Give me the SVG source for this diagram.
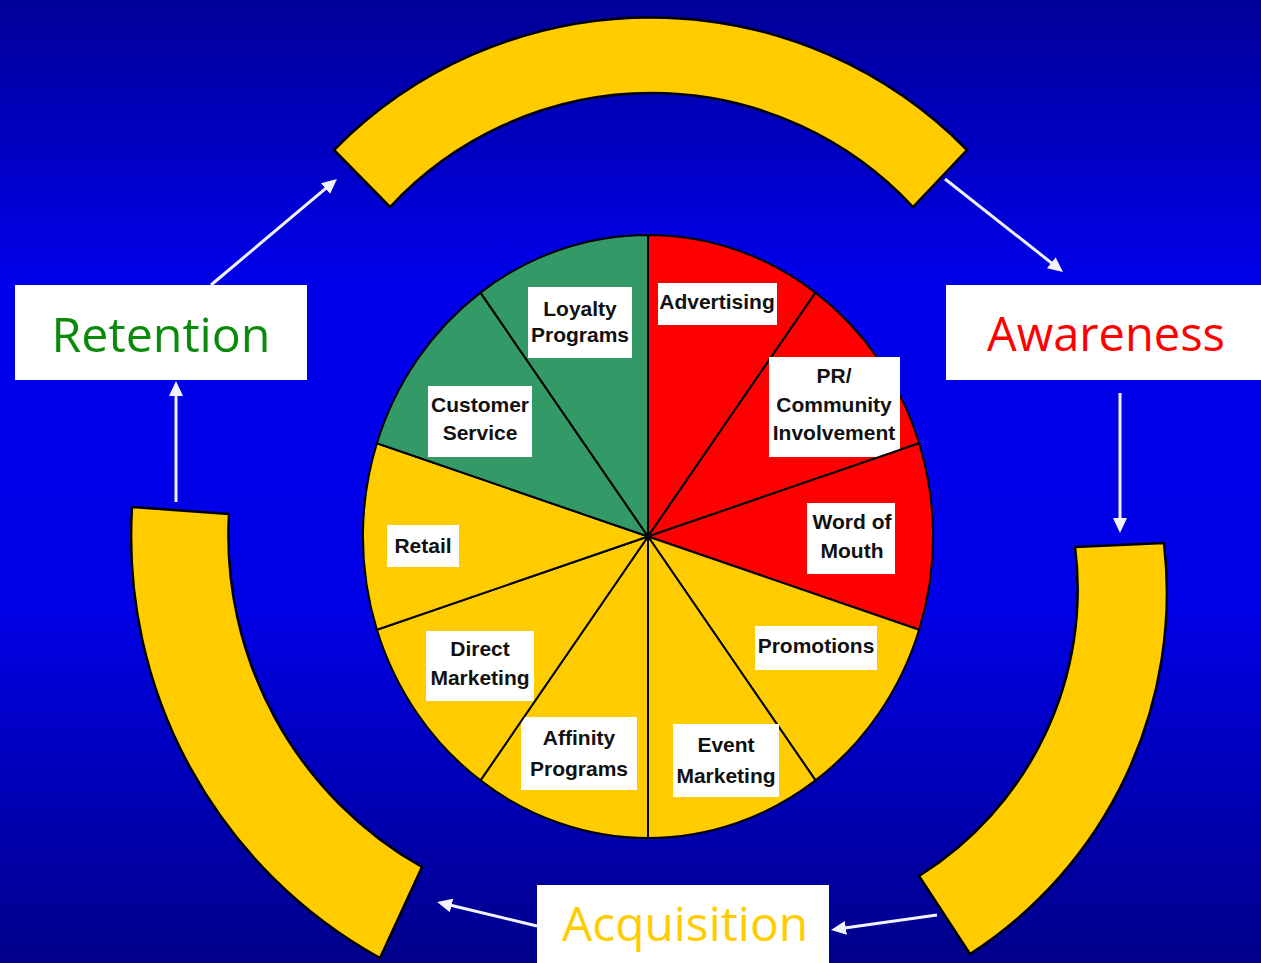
<svg xmlns="http://www.w3.org/2000/svg" width="1261" height="963" viewBox="0 0 1261 963">
  <defs>
    <linearGradient id="bg" x1="0" y1="0" x2="0" y2="1">
      <stop offset="0" stop-color="#000098"/>
      <stop offset="0.3" stop-color="#0000EC"/>
      <stop offset="0.62" stop-color="#0000E8"/>
      <stop offset="1" stop-color="#00008A"/>
    </linearGradient>
    <marker id="head" markerUnits="userSpaceOnUse" markerWidth="16" markerHeight="14" refX="3" refY="7" orient="auto">
      <path d="M0,0 L15,7 L0,14 Z" fill="#F2F2FF"/>
    </marker>
    <style>
      .band { fill: #FFCC00; stroke: #000000; stroke-width: 2.5; stroke-linejoin: round; }
      .slice { stroke: #000000; stroke-width: 2; stroke-linejoin: round; }
      .red { fill: #FF0000; }
      .green { fill: #339966; }
      .yellow { fill: #FFCC00; }
      .tag { fill: #FFFFFF; }
      .tag-text { font-family: "Liberation Sans", Arial, sans-serif; font-size: 21px; font-weight: bold; fill: #111111; text-anchor: middle; }
      .stage { fill: #FFFFFF; }
      .stage-text { font-family: "Open Sans", "DejaVu Sans", sans-serif; font-size: 48px; text-anchor: middle; }
      .flow { stroke: #F2F2FF; stroke-width: 3; fill: none; marker-end: url(#head); }
    </style>
  </defs>

  <!-- backdrop -->
  <rect x="0" y="0" width="1261" height="963" fill="url(#bg)"/>

  <!-- outer ring segments -->
  <g id="ring-top">
    <path class="band" d="M334,150 A444,444 0 0 1 967,150 L913,207 A357,357 0 0 0 390,207 Z"/>
  </g>
  <g id="ring-right">
    <path class="band" d="M1164,543 A430,430 0 0 1 970,954 L919,876 A338,338 0 0 0 1075,547 Z"/>
  </g>
  <g id="ring-left">
    <path class="band" d="M132,507 A481,481 0 0 0 380,958 L422,867 A381,381 0 0 1 229,514 Z"/>
  </g>

  <!-- pie of activities, clockwise from twelve o'clock -->
  <g id="pie">
    <g id="slice-advertising">
      <path class="slice red" d="M648,536.5 L648,235 A285,301.5 0 0 1 815.5,292.6 Z"/>
      <rect class="tag" x="658" y="283" width="119" height="42"/>
      <text class="tag-text" x="717" y="309">Advertising</text>
    </g>
    <g id="slice-pr">
      <path class="slice red" d="M648,536.5 L815.5,292.6 A285,301.5 0 0 1 919.1,443.3 Z"/>
      <rect class="tag" x="769" y="357" width="131" height="100"/>
      <text class="tag-text" x="834" y="383">PR/</text>
      <text class="tag-text" x="834" y="412">Community</text>
      <text class="tag-text" x="834" y="440">Involvement</text>
    </g>
    <g id="slice-word-of-mouth">
      <path class="slice red" d="M648,536.5 L919.1,443.3 A285,301.5 0 0 1 919.1,629.7 Z"/>
      <rect class="tag" x="807" y="503" width="88" height="71"/>
      <text class="tag-text" x="852" y="529">Word of</text>
      <text class="tag-text" x="852" y="558">Mouth</text>
    </g>
    <g id="slice-promotions">
      <path class="slice yellow" d="M648,536.5 L919.1,629.7 A285,301.5 0 0 1 815.5,780.4 Z"/>
      <rect class="tag" x="755" y="626" width="122" height="44"/>
      <text class="tag-text" x="816" y="653">Promotions</text>
    </g>
    <g id="slice-event-marketing">
      <path class="slice yellow" d="M648,536.5 L815.5,780.4 A285,301.5 0 0 1 648,838 Z"/>
      <rect class="tag" x="673" y="724" width="106" height="73"/>
      <text class="tag-text" x="726" y="752">Event</text>
      <text class="tag-text" x="726" y="783">Marketing</text>
    </g>
    <g id="slice-affinity-programs">
      <path class="slice yellow" d="M648,536.5 L648,838 A285,301.5 0 0 1 480.5,780.4 Z"/>
      <rect class="tag" x="521" y="717" width="116" height="73"/>
      <text class="tag-text" x="579" y="745">Affinity</text>
      <text class="tag-text" x="579" y="776">Programs</text>
    </g>
    <g id="slice-direct-marketing">
      <path class="slice yellow" d="M648,536.5 L480.5,780.4 A285,301.5 0 0 1 376.9,629.7 Z"/>
      <rect class="tag" x="426" y="631" width="108" height="70"/>
      <text class="tag-text" x="480" y="656">Direct</text>
      <text class="tag-text" x="480" y="685">Marketing</text>
    </g>
    <g id="slice-retail">
      <path class="slice yellow" d="M648,536.5 L376.9,629.7 A285,301.5 0 0 1 376.9,443.3 Z"/>
      <rect class="tag" x="387" y="525" width="72" height="42"/>
      <text class="tag-text" x="423" y="553">Retail</text>
    </g>
    <g id="slice-customer-service">
      <path class="slice green" d="M648,536.5 L376.9,443.3 A285,301.5 0 0 1 480.5,292.6 Z"/>
      <rect class="tag" x="428" y="386" width="104" height="71"/>
      <text class="tag-text" x="480" y="412">Customer</text>
      <text class="tag-text" x="480" y="440">Service</text>
    </g>
    <g id="slice-loyalty-programs">
      <path class="slice green" d="M648,536.5 L480.5,292.6 A285,301.5 0 0 1 648,235 Z"/>
      <rect class="tag" x="528" y="287" width="104" height="71"/>
      <text class="tag-text" x="580" y="316">Loyalty</text>
      <text class="tag-text" x="580" y="342">Programs</text>
    </g>
    <circle cx="648" cy="536.5" r="3" fill="#000000"/>
  </g>

  <!-- lifecycle stages -->
  <g id="stage-retention">
    <rect class="stage" x="15" y="285" width="292" height="95"/>
    <text class="stage-text" x="161" y="352" fill="#0A8A0A" textLength="219" lengthAdjust="spacingAndGlyphs">Retention</text>
  </g>
  <g id="stage-awareness">
    <rect class="stage" x="946" y="285" width="320" height="95"/>
    <text class="stage-text" x="1106" y="351" fill="#FF0000" textLength="238" lengthAdjust="spacingAndGlyphs">Awareness</text>
  </g>
  <g id="stage-acquisition">
    <rect class="stage" x="537" y="885" width="292" height="85"/>
    <text class="stage-text" x="685" y="941" fill="#FFCC00" textLength="246" lengthAdjust="spacingAndGlyphs">Acquisition</text>
  </g>

  <!-- cycle arrows -->
  <g id="connectors">
    <line class="flow" x1="211" y1="285" x2="327.8" y2="186.7"/>
    <line class="flow" x1="945" y1="179" x2="1053.6" y2="264.6"/>
    <line class="flow" x1="1120" y1="393" x2="1120" y2="521"/>
    <line class="flow" x1="937" y1="915" x2="842.9" y2="928.3"/>
    <line class="flow" x1="537" y1="926" x2="448.7" y2="904.8"/>
    <line class="flow" x1="176" y1="502" x2="176" y2="393"/>
  </g>
</svg>
